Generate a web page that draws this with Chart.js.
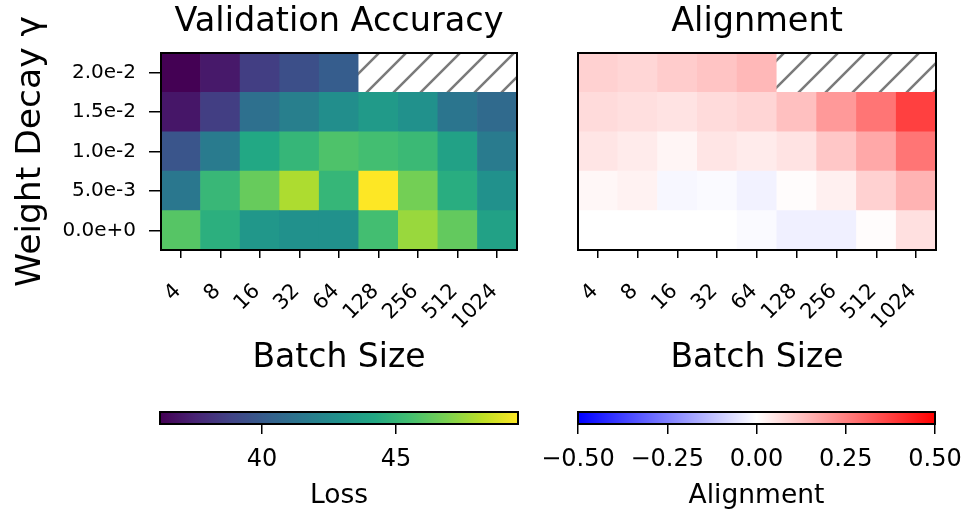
<!DOCTYPE html>
<html>
<head>
<meta charset="utf-8">
<script src="https://cdn.jsdelivr.net/npm/chart.js@4.4.0/dist/chart.umd.min.js"></script>
<style>
  body { margin: 0; background: #fff; }
  #wrap { position: relative; width: 966px; height: 514px; overflow: hidden; }
  #wrap canvas { position: absolute; left: 0; }
</style>
</head>
<body>
<div id="wrap">
  <canvas id="accChart" width="966" height="380" style="top:0"></canvas>
  <canvas id="alignChart" width="966" height="380" style="top:0"></canvas>
  <canvas id="accBar" width="966" height="124" style="top:390px"></canvas>
  <canvas id="alignBar" width="966" height="124" style="top:390px"></canvas>
</div>
<script>
Chart.defaults.font.family = "'DejaVu Sans', sans-serif";
Chart.defaults.color = '#000';

// categories
var batchSizes = ['4', '8', '16', '32', '64', '128', '256', '512', '1024'];
var weightDecays = ['0.0e+0', '5.0e-3', '1.0e-2', '1.5e-2', '2.0e-2']; // bottom -> top

// validation accuracy, one array per weight decay
var accWd0    = [46.0, 44.6, 43.2, 42.9, 42.9, 45.5, 47.5, 46.3, 43.8];
var accWd5e3  = [41.5, 45.1, 46.4, 47.9, 45.0, 49.55, 46.7, 44.5, 42.9];
var accWd1e2  = [39.7, 41.7, 44.2, 45.0, 45.8, 45.5, 45.2, 43.8, 41.7];
var accWd15e3 = [37.0, 38.6, 41.1, 41.9, 42.7, 43.4, 42.9, 41.4, 40.8];
var accWd2e2  = [36.2, 37.1, 38.6, 39.4, 40.1, null, null, null, null];

// alignment, one array per weight decay
var alignWd0    = [0.0, 0.0, 0.0, 0.0, -0.01, -0.03, -0.03, 0.005, 0.06];
var alignWd5e3  = [0.015, 0.025, -0.015, -0.01, -0.025, 0.005, 0.03, 0.09, 0.15];
var alignWd1e2  = [0.05, 0.04, 0.02, 0.05, 0.04, 0.055, 0.11, 0.17, 0.27];
var alignWd15e3 = [0.07, 0.062, 0.055, 0.07, 0.083, 0.123, 0.2, 0.27, 0.375];
var alignWd2e2  = [0.09, 0.08, 0.10, 0.115, 0.14, null, null, null, null];

// colorbar ticks
var accTicks = [40, 45];
var alignTicks = [-0.5, -0.25, 0, 0.25, 0.5];

var accRows = [accWd0, accWd5e3, accWd1e2, accWd15e3, accWd2e2];
var alignRows = [alignWd0, alignWd5e3, alignWd1e2, alignWd15e3, alignWd2e2];

var accVals = [].concat.apply([], accRows).filter(v => v !== null);
var accMin = Math.min.apply(null, accVals);
var accMax = Math.max.apply(null, accVals);
var alignMin = -0.5, alignMax = 0.5;

var viridisStops = ['#440154', '#482475', '#414487', '#355f8d', '#2a788e', '#21918c',
                    '#22a884', '#44bf70', '#7ad151', '#bddf26', '#fde725'];
var bwrStops = ['#0000ff', '#ffffff', '#ff0000'];

function hexToRgb(h) {
  return [parseInt(h.slice(1, 3), 16), parseInt(h.slice(3, 5), 16), parseInt(h.slice(5, 7), 16)];
}

function colormap(stops, t) {
  t = Math.max(0, Math.min(1, t));
  var pos = t * (stops.length - 1);
  var i = Math.min(Math.floor(pos), stops.length - 2);
  var f = pos - i;
  var a = hexToRgb(stops[i]), b = hexToRgb(stops[i + 1]);
  var c = a.map((v, k) => Math.round(v + (b[k] - v) * f));
  return 'rgb(' + c.join(',') + ')';
}

function hatchPattern(ctx) {
  var c = document.createElement('canvas');
  c.width = 27; c.height = 27;
  var g = c.getContext('2d');
  g.fillStyle = '#fff';
  g.fillRect(0, 0, 27, 27);
  g.strokeStyle = '#7a7a7a';
  g.lineWidth = 2.5;
  g.beginPath();
  g.moveTo(0, 27); g.lineTo(27, 0);
  g.moveTo(-5, 5); g.lineTo(5, -5);
  g.moveTo(22, 32); g.lineTo(32, 22);
  g.stroke();
  return ctx.createPattern(c, 'repeat');
}

// black box round the plot area
var frame = {
  id: 'frame',
  afterDraw(chart) {
    var a = chart.chartArea, ctx = chart.ctx;
    ctx.save();
    ctx.lineWidth = 2;
    ctx.strokeStyle = '#000';
    ctx.strokeRect(a.left, a.top, a.right - a.left, a.bottom - a.top);
    ctx.restore();
  }
};

function heatmap(id, title, rows, colorOf, showY, pad) {
  var ctx = document.getElementById(id).getContext('2d');
  var hatch = hatchPattern(ctx);
  var datasets = rows.map(row => ({
    data: row.map(() => 1),
    backgroundColor: row.map(v => v === null ? hatch : colorOf(v)),
    borderWidth: 0,
    barPercentage: 1,
    categoryPercentage: 1
  }));
  return new Chart(ctx, {
    type: 'bar',
    data: { labels: batchSizes, datasets: datasets },
    options: {
      responsive: false,
      animation: false,
      events: [],
      layout: { padding: pad },
      plugins: {
        legend: { display: false },
        tooltip: { enabled: false },
        title: {
          display: true,
          text: title,
          fullSize: false,
          font: { size: 33.5, weight: 'normal' },
          color: '#000',
          padding: { top: 2, bottom: 10.8 }
        }
      },
      scales: {
        x: {
          stacked: true,
          offset: true,
          grid: { offset: false, drawOnChartArea: false, tickLength: 8, color: '#000', lineWidth: 1.5 },
          border: { display: false },
          ticks: { autoSkip: false, minRotation: 45, maxRotation: 45, font: { size: 21 }, padding: 21, labelOffset: -3 },
          title: { display: true, text: 'Batch Size', font: { size: 33 }, padding: { top: 0, bottom: 2 } },
          afterFit: s => { s.height = 130; }
        },
        y: {
          display: showY,
          stacked: true,
          min: 0,
          max: weightDecays.length,
          afterBuildTicks: s => { s.ticks = weightDecays.map((w, i) => ({ value: i + 0.5 })); },
          ticks: { callback: (v, i) => weightDecays[i], font: { size: 20 }, padding: 13 },
          grid: { drawOnChartArea: false, tickLength: 12, color: '#000', lineWidth: 1.5 },
          border: { display: false },
          title: { display: true, text: 'Weight Decay γ', font: { size: 34.5 }, padding: { top: 10, bottom: 0 } },
          afterFit: s => { s.width = showY ? 161 : 0; }
        }
      }
    },
    plugins: [frame]
  });
}

function colorbar(id, label, lo, hi, stops, ticks, fmt, pad) {
  var ctx = document.getElementById(id).getContext('2d');
  return new Chart(ctx, {
    type: 'bar',
    data: {
      labels: [label],
      datasets: [{
        data: [[lo, hi]],
        backgroundColor: function(c) {
          var a = c.chart.chartArea;
          if (!a) return null;
          var g = c.chart.ctx.createLinearGradient(a.left, 0, a.right, 0);
          stops.forEach((s, i) => g.addColorStop(i / (stops.length - 1), s));
          return g;
        },
        borderWidth: 0,
        barPercentage: 1,
        categoryPercentage: 1
      }]
    },
    options: {
      indexAxis: 'y',
      responsive: false,
      animation: false,
      events: [],
      layout: { padding: pad },
      plugins: { legend: { display: false }, tooltip: { enabled: false } },
      scales: {
        x: {
          type: 'linear',
          min: lo,
          max: hi,
          afterBuildTicks: s => { s.ticks = ticks.map(v => ({ value: v })); },
          ticks: { callback: fmt, font: { size: 24 }, padding: 11, maxRotation: 0 },
          grid: { drawOnChartArea: false, tickLength: 10, color: '#000', lineWidth: 1.5 },
          border: { display: false },
          title: { display: true, text: label, font: { size: 26.5 }, padding: { top: 0, bottom: 2 } },
          // end labels may run past the bar, as they do in the figure
          afterFit: s => { s.height = 90; s.paddingLeft = 0; s.paddingRight = 0; }
        },
        y: { display: false }
      }
    },
    plugins: [frame]
  });
}

heatmap('accChart', 'Validation Accuracy', accRows,
  v => colormap(viridisStops, (v - accMin) / (accMax - accMin)),
  true, { left: 0, right: 449, top: 0, bottom: 0 });

heatmap('alignChart', 'Alignment', alignRows,
  v => colormap(bwrStops, (v - alignMin) / (alignMax - alignMin)),
  false, { left: 578, right: 30, top: 0, bottom: 0 });

colorbar('accBar', 'Loss', accMin, accMax, viridisStops, accTicks,
  v => String(v), { left: 160, right: 448, top: 22, bottom: 0 });

colorbar('alignBar', 'Alignment', alignMin, alignMax, bwrStops, alignTicks,
  v => v.toFixed(2).replace('-', '\u2212'), { left: 578, right: 31, top: 22, bottom: 0 });
</script>
</body>
</html>
